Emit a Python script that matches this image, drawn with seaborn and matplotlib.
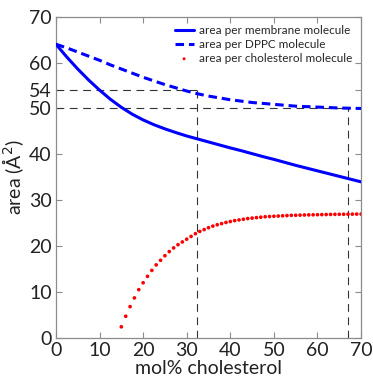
import numpy as np
import pandas as pd
import matplotlib
matplotlib.use("Agg")
import matplotlib.pyplot as plt
import seaborn as sns

# curves, every 2.5 mol%
chol_pct = [0, 2.5, 5, 7.5, 10, 12.5, 15, 17.5, 20, 22.5, 25, 27.5, 30, 32.5, 35,
            37.5, 40, 42.5, 45, 47.5, 50, 52.5, 55, 57.5, 60, 62.5, 65, 67.5, 70]
area_membrane = [64.0, 61.2, 58.6, 56.2, 54.0, 52.0, 50.25, 48.75, 47.5, 46.45, 45.55,
                 44.75, 44.0, 43.35, 42.7, 42.05, 41.4, 40.8, 40.15, 39.5, 38.9, 38.25,
                 37.6, 37.0, 36.4, 35.8, 35.2, 34.6, 34.0]
area_dppc = [64.0, 63.2, 62.3, 61.4, 60.5, 59.5, 58.6, 57.7, 56.8, 56.0, 55.2, 54.5,
             53.8, 53.2, 52.7, 52.3, 51.9, 51.6, 51.3, 51.1, 50.9, 50.7, 50.5, 50.4,
             50.3, 50.2, 50.1, 50.05, 50.0]

# cholesterol area, one dot per mol%
chol_dot_pct = list(range(15, 71))
area_chol = [2.4, 4.7, 6.8, 8.7, 10.5, 12.0, 13.4, 14.7, 15.9, 16.9, 17.9, 18.8, 19.6,
             20.3, 20.9, 21.5, 22.1, 22.7, 23.2, 23.6, 24.0, 24.35, 24.65, 24.9, 25.15,
             25.35, 25.55, 25.7, 25.85, 26.0, 26.1, 26.2, 26.3, 26.4, 26.45, 26.5,
             26.55, 26.6, 26.65, 26.7, 26.72, 26.75, 26.78, 26.8, 26.82, 26.84, 26.86,
             26.88, 26.9, 26.92, 26.93, 26.94, 26.95, 26.96, 26.97, 26.98]

# guide lines
guide_x = [32.4, 67]
guide_y = [54, 50]

y_ticks = [0, 10, 20, 30, 40, 50, 54, 60, 70]
x_ticks = [0, 10, 20, 30, 40, 50, 60, 70]

sns.set_style("ticks")
plt.rcParams["font.family"] = ["Lato", "DejaVu Sans"]
axis_col = "#8c8c8c"

fig = plt.figure(figsize=(3.73, 3.8), dpi=100)
ax = fig.add_axes([0.150, 0.111, 0.818, 0.845])

# dashed guides
for gx, gy in zip(guide_x, guide_y):
    ax.plot([0, gx], [gy, gy], color="#333333", lw=0.8, ls=(0, (7, 5)), zorder=1)
    ax.plot([gx, gx], [0, gy], color="#333333", lw=0.8, ls=(0, (7, 5)), zorder=1)

sns.lineplot(x=chol_pct, y=area_membrane, ax=ax, color="#0000ff", lw=2.2,
             label="area per membrane molecule", zorder=3)
sns.lineplot(x=chol_pct, y=area_dppc, ax=ax, color="#0000ff", lw=2.2,
             linestyle=(0, (2.8, 1.6)), label="area per DPPC molecule", zorder=3)
sns.scatterplot(x=chol_dot_pct, y=area_chol, ax=ax, color="#ff0000", s=7,
                edgecolor="none", label="area per cholesterol molecule", zorder=3)

ax.set_xlim(0, 70)
ax.set_ylim(0, 70)
ax.set_xticks(x_ticks)
ax.set_yticks(y_ticks)
ax.tick_params(direction="in", length=4, width=0.8, color=axis_col,
               top=True, right=True, labelsize=14, labelcolor="#222222", pad=3)
for sp in ax.spines.values():
    sp.set_color(axis_col)
    sp.set_linewidth(0.9)

ax.set_xlabel("mol% cholesterol", fontsize=14, color="#222222", labelpad=1)
ax.set_ylabel("area (Å$^2$)", fontsize=14, color="#222222", labelpad=2)

ax.legend(loc="upper right", bbox_to_anchor=(1.0, 1.0), frameon=False, fontsize=8.5,
          handlelength=1.6, handletextpad=0.5, labelspacing=0.25, borderaxespad=0.3,
          markerscale=0.8)

fig.savefig("out.png", dpi=100)
